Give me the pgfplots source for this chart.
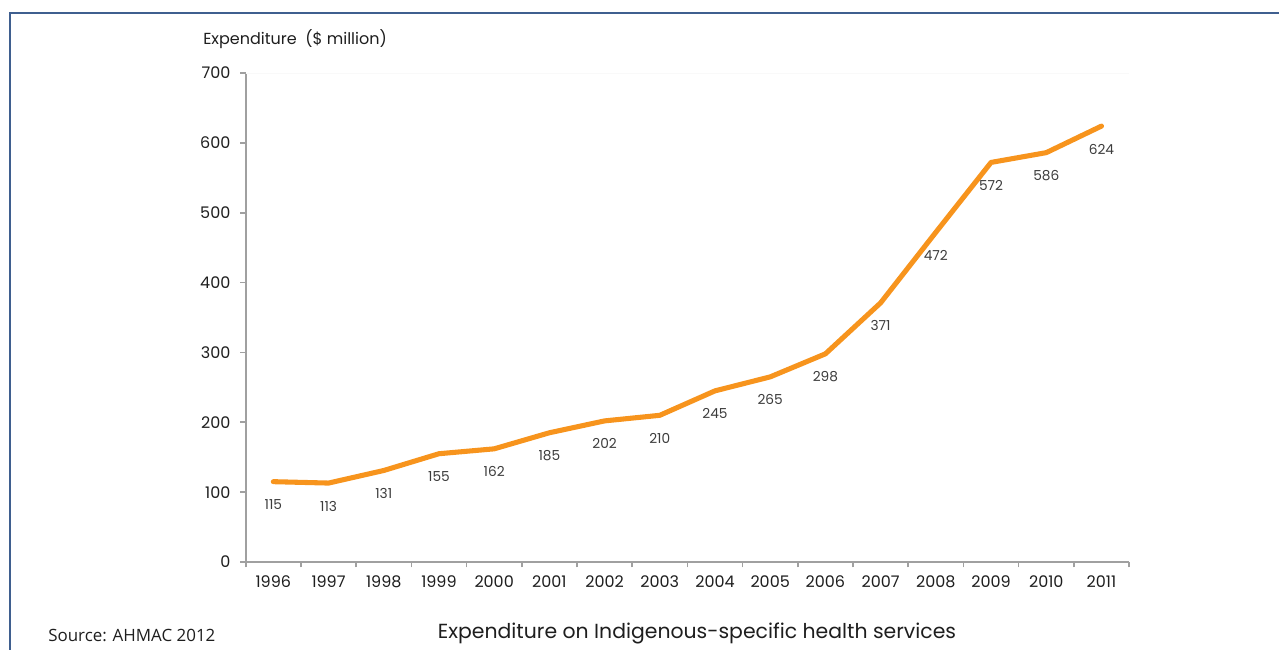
\documentclass[border=0pt]{standalone}
\usepackage{fontspec}
\setmainfont{Poppins}
\newfontfamily\srcfont{Open Sans}
\usepackage{pgfplots}
\pgfplotsset{compat=1.18}
\definecolor{lineorange}{RGB}{247,148,29}
\definecolor{frameblue}{RGB}{63,95,143}
\definecolor{axgray}{RGB}{160,160,160}
\definecolor{txt}{RGB}{30,30,30}
\definecolor{lbl}{RGB}{60,60,60}
\begin{document}
\begin{tikzpicture}
\useasboundingbox (0,0) rectangle (959.25pt,-487.5pt);
\draw[frameblue, line width=1.5pt] (7.5pt,-490pt) -- (7.5pt,-9.75pt) -- (962pt,-9.75pt);
\begin{axis}[
  at={(184.3pt,-421.5pt)}, anchor=south west,
  scale only axis, width=662.5pt, height=366.75pt,
  xmin=-0.5, xmax=15.5, ymin=0, ymax=700,
  axis lines=left,
  axis line style={axgray, line width=1.5pt, -},
  ytick={0,100,...,700},
  xtick={0,...,15},
  xticklabels={1996,1997,1998,1999,2000,2001,2002,2003,2004,2005,2006,2007,2008,2009,2010,2011},
  minor xtick={-0.5,0.5,...,15.5},
  tick align=outside,
  major tick length=4pt,
  minor tick length=4pt,
  tick style={axgray, line width=1.2pt},
  major x tick style={draw=none},
  /pgf/number format/assume math mode=true,
  /pgf/number format/1000 sep={},
  tick label style={font=\fontsize{12}{14}\selectfont, text=txt},
  yticklabel style={xshift=-4pt},
  xticklabel style={yshift=-3pt},
  clip=false,
  nodes near coords,
  every node near coord/.append style={anchor=center, yshift=-17.25pt, font=\fontsize{10.3}{12}\selectfont, text=lbl},
]
\draw[gray!5, line width=0.5pt] (axis cs:-0.5,700) -- (axis cs:15.5,700);
\addplot[lineorange, line width=3.8pt, line join=round, line cap=round, mark=none] coordinates {
(0,115) (1,113) (2,131) (3,155) (4,162) (5,185) (6,202) (7,210)
(8,245) (9,265) (10,298) (11,371) (12,472) (13,572) (14,586) (15,624)
};
\end{axis}
\node[anchor=west, inner sep=0pt, text=txt, font=\fontsize{12}{14}\selectfont] at (152.25pt,-29.25pt) {Expenditure\ \ (\$ million)};
\node[anchor=center, inner sep=0pt, text=txt, font=\fontsize{15.3}{17}\selectfont] at (522.75pt,-474.75pt) {Expenditure on Indigenous-specific health services};
\node[anchor=west, inner sep=0pt, text=txt, font=\srcfont\fontsize{12.7}{14}\selectfont] at (36pt,-476.25pt) {Source: AHMAC 2012};
\end{tikzpicture}
\end{document}
